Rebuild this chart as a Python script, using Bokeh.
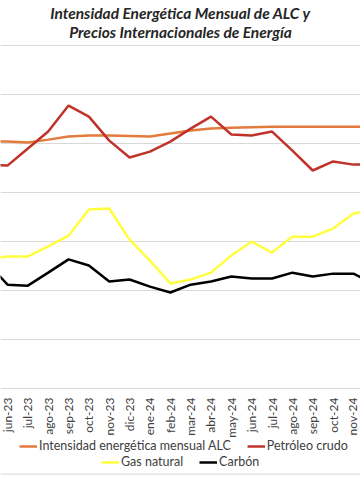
import math
from bokeh.plotting import figure
from bokeh.models import Range1d, FixedTicker, Legend, LegendItem, Span
from bokeh.core.properties import value
from bokeh.embed import file_html
from bokeh.resources import INLINE

# ---------------- data ----------------
months = ["may-23", "jun-23", "jul-23", "ago-23", "sep-23", "oct-23", "nov-23", "dic-23",
          "ene-24", "feb-24", "mar-24", "abr-24", "may-24", "jun-24", "jul-24", "ago-24",
          "sep-24", "oct-24", "nov-24", "dic-24"]
intensidad_alc = [100.8, 100.8, 100.4, 101.6, 102.9, 103.3, 103.3, 103.1, 102.9, 104.1,
                  105.3, 106.1, 106.5, 106.7, 106.9, 106.9, 106.9, 106.9, 106.9, 106.9]
petroleo = [91.4, 91.0, 98.0, 104.9, 115.5, 111.0, 101.2, 94.3, 96.7, 100.8,
            106.1, 111.0, 103.7, 103.3, 104.9, 97.1, 89.0, 92.7, 91.4, 91.4]
gas_natural = [52.7, 53.9, 53.9, 58.0, 62.4, 73.1, 73.5, 60.8, 52.2, 42.9,
               44.5, 47.3, 54.3, 60.0, 55.5, 62.0, 62.0, 65.3, 71.4, 73.0]
carbon = [51.4, 42.4, 42.0, 47.3, 52.7, 50.2, 43.7, 44.5, 41.6, 39.2,
          42.4, 43.7, 45.7, 44.9, 44.9, 47.3, 45.7, 46.9, 46.9, 42.9]
series_names = ["Intensidad energética mensual ALC", "Petróleo crudo", "Gas natural", "Carbón"]
series_colors = ["#E37B3C", "#C0332B", "#FFFF40", "#000000"]
y_ticks = [20, 40, 60, 80, 100, 120, 140]
title_lines = ["Intensidad Energética Mensual de ALC y", "Precios Internacionales de Energía"]

x = list(range(len(months)))
x_start, x_end = 0.656, 18.346

p = figure(frame_width=360, frame_height=504, min_border_left=0, min_border_right=0,
           min_border_top=0, min_border_bottom=0,
           output_backend="svg", toolbar_location=None,
           x_range=Range1d(x_start, x_end), y_range=Range1d(-47.35, 158.4))
p.outline_line_color = None
p.background_fill_color = "white"
p.border_fill_color = "white"

# axes
p.yaxis.visible = False
p.xgrid.visible = False
p.ygrid.ticker = FixedTicker(ticks=y_ticks)
p.ygrid.grid_line_color = "#d9d9d9"
p.ygrid.grid_line_width = 1

xa = p.xaxis[0]
xa.fixed_location = 0
xa.ticker = FixedTicker(ticks=x)
xa.major_label_overrides = {i: m for i, m in zip(x, months)}
xa.major_label_orientation = math.pi / 2
xa.major_tick_line_color = None
xa.minor_tick_line_color = None
xa.axis_line_color = "#d9d9d9"
xa.axis_line_width = 1
xa.major_label_standoff = 3
xa.major_label_text_font = "Lato"
xa.major_label_text_font_size = "12px"
xa.major_label_text_color = "#404040"

# title, two lines
xc = (x_start + x_end) / 2
p.text(x=[xc, xc], y=[153.1, 145.7], text=title_lines, text_font=value("Lato"),
       text_font_size="15.5px", text_font_style="bold italic", text_color="#262626",
       text_baseline="middle", text_align="center")

renderers = []
for vals, col in zip([intensidad_alc, petroleo, gas_natural, carbon], series_colors):
    r = p.line(x, vals, line_color=col, line_width=2.5)
    renderers.append(r)

common = dict(orientation="horizontal", border_line_color=None, background_fill_alpha=0,
              padding=0, margin=0, spacing=16, label_standoff=2,
              glyph_width=18, glyph_height=14, label_height=14,
              label_text_font="Lato", label_text_font_size="12.5px",
              label_text_color="#404040")
leg1 = Legend(items=[LegendItem(label=series_names[i], renderers=[renderers[i]]) for i in (0, 1)],
              location=(19, 51), **common)
p.add_layout(leg1, "center")
leg2 = Legend(items=[LegendItem(label=series_names[i], renderers=[renderers[i]]) for i in (2, 3)],
              location=(101, 35), **common)
p.add_layout(leg2, "center")
p.add_layout(Span(location=-35.0, dimension="width", line_color="#e6e6e6", line_width=1.5))

open("out.html", "w").write(file_html(p, INLINE))
